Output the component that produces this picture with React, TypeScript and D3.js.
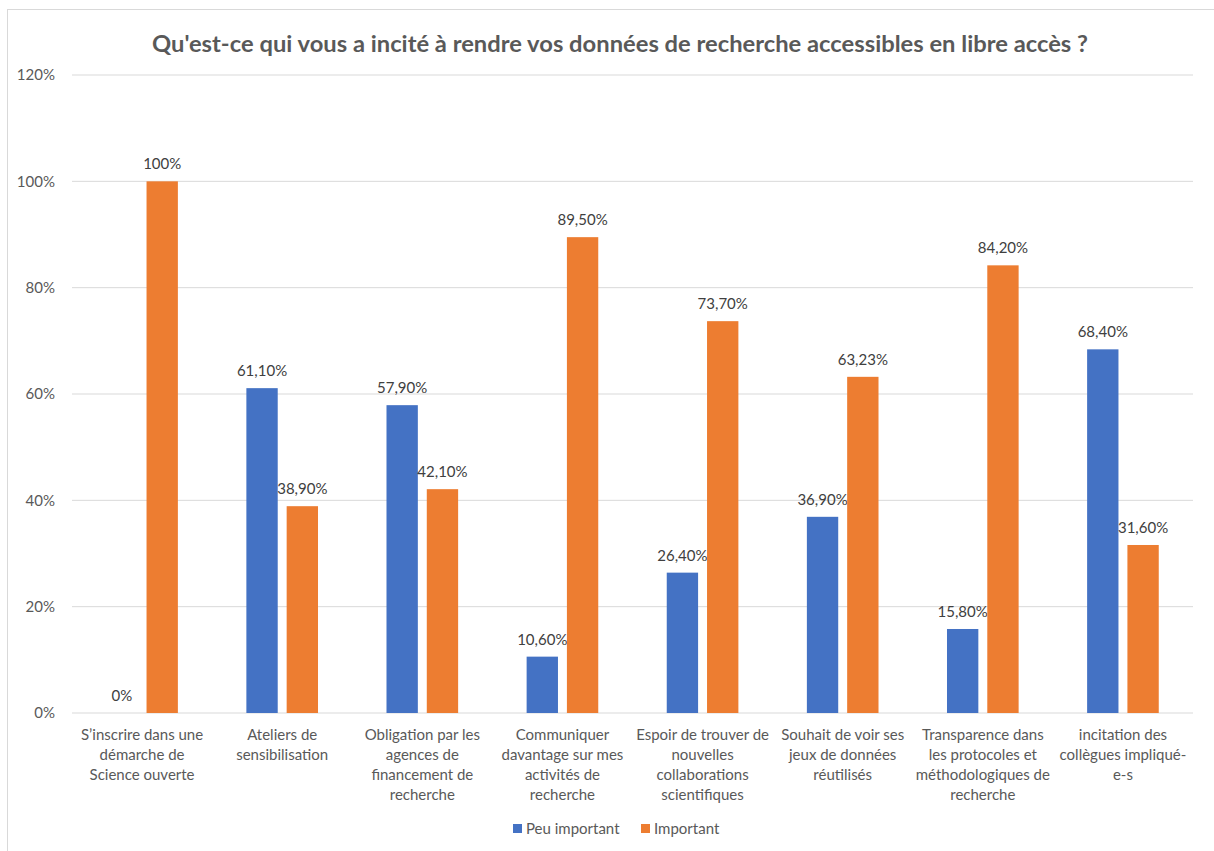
import React from 'react';
import { scaleBand, scaleLinear } from 'd3';

const categories: string[][] = [
  ['S’inscrire dans une', 'démarche de', 'Science ouverte'],
  ['Ateliers de', 'sensibilisation'],
  ['Obligation par les', 'agences de', 'financement de', 'recherche'],
  ['Communiquer', 'davantage sur mes', 'activités de', 'recherche'],
  ['Espoir de trouver de', 'nouvelles', 'collaborations', 'scientifiques'],
  ['Souhait de voir ses', 'jeux de données', 'réutilisés'],
  ['Transparence dans', 'les protocoles et', 'méthodologiques de', 'recherche'],
  ['incitation des', 'collègues impliqué-', 'e-s'],
];

const peuImportant = [0, 61.1, 57.9, 10.6, 26.4, 36.9, 15.8, 68.4];
const important = [100, 38.9, 42.1, 89.5, 73.7, 63.23, 84.2, 31.6];
const peuLabels = ['0%', '61,10%', '57,90%', '10,60%', '26,40%', '36,90%', '15,80%', '68,40%'];
const impLabels = ['100%', '38,90%', '42,10%', '89,50%', '73,70%', '63,23%', '84,20%', '31,60%'];
const yTicks = [0, 20, 40, 60, 80, 100, 120];

const seriesNames = ['Peu important', 'Important'];
const colors = ['#4472C4', '#ED7D31'];

const W = 1214;
const H = 851;
const font = 'Lato, "Open Sans", sans-serif';

const App: React.FC = () => {
  const margin = { top: 75, right: 21, bottom: 138, left: 72 };
  const x0 = scaleBand<number>()
    .domain(categories.map((_, i) => i))
    .range([margin.left, W - margin.right])
    .paddingInner(0)
    .paddingOuter(0);
  const x1 = scaleBand<number>()
    .domain([0, 1])
    .range([0, x0.bandwidth()])
    .paddingInner(0.222)
    .paddingOuter(0.85);
  const y = scaleLinear()
    .domain([0, 120])
    .range([H - margin.bottom, margin.top]);

  const series = [
    { values: peuImportant, labels: peuLabels },
    { values: important, labels: impLabels },
  ];

  return (
    <svg width={W} height={H} style={{ position: 'absolute', left: 0, top: 0, background: '#fff' }}>
      <rect x={7.5} y={9.5} width={W + 10} height={H + 10} fill="#fff" stroke="#d9d9d9" strokeWidth={1} />

      <text
        x={620}
        y={52}
        textAnchor="middle"
        fontFamily={font}
        fontWeight={700}
        fontSize={22}
        fill="#595959"
        textLength={936}
        lengthAdjust="spacingAndGlyphs"
      >
        Qu'est-ce qui vous a incité à rendre vos données de recherche accessibles en libre accès ?
      </text>

      {/* grid + y axis */}
      <g>
        {yTicks.map(t => (
          <g key={t}>
            <line
              x1={margin.left}
              x2={W - margin.right}
              y1={y(t)}
              y2={y(t)}
              stroke="#d9d9d9"
              strokeWidth={1}
            />
            <text
              x={55}
              y={y(t)}
              dy="0.35em"
              textAnchor="end"
              fontFamily={font}
              fontSize={15}
              fill="#595959"
            >
              {t}%
            </text>
          </g>
        ))}
      </g>

      {/* bars */}
      <g>
        {categories.map((_, i) => (
          <g key={i} transform={`translate(${x0(i)},0)`}>
            {series.map((s, j) => (
              <g key={j}>
                <rect
                  x={x1(j)}
                  y={y(s.values[i])}
                  width={x1.bandwidth()}
                  height={y(0) - y(s.values[i])}
                  fill={colors[j]}
                />
                <text
                  x={(x1(j) || 0) + x1.bandwidth() / 2}
                  y={y(s.values[i]) - 12}
                  textAnchor="middle"
                  fontFamily={font}
                  fontSize={15}
                  fill="#404040"
                >
                  {s.labels[i]}
                </text>
              </g>
            ))}
          </g>
        ))}
      </g>

      {/* category labels */}
      <g>
        {categories.map((lines, i) => (
          <text
            key={i}
            x={(x0(i) || 0) + x0.bandwidth() / 2}
            y={740}
            textAnchor="middle"
            fontFamily={font}
            fontSize={15}
            fill="#595959"
          >
            {lines.map((l, k) => (
              <tspan key={k} x={(x0(i) || 0) + x0.bandwidth() / 2} dy={k === 0 ? 0 : 20}>
                {l}
              </tspan>
            ))}
          </text>
        ))}
      </g>

      {/* legend */}
      <g fontFamily={font} fontSize={15} fill="#595959">
        <rect x={513} y={824} width={9} height={9} fill={colors[0]} />
        <text x={526} y={829} dy="0.35em">{seriesNames[0]}</text>
        <rect x={641} y={824} width={9} height={9} fill={colors[1]} />
        <text x={654} y={829} dy="0.35em">{seriesNames[1]}</text>
      </g>
    </svg>
  );
};

export default App;
